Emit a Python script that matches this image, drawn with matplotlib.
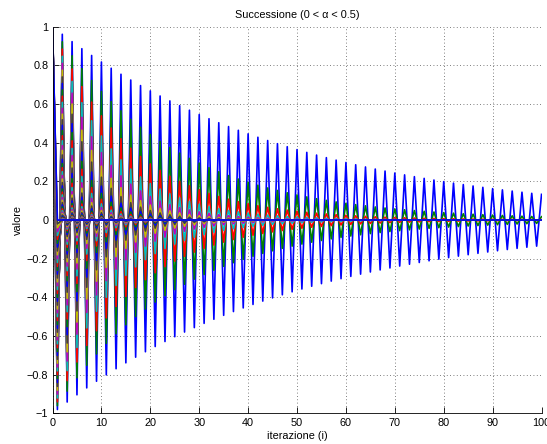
import numpy as np
import matplotlib
matplotlib.use("Agg")
import matplotlib.pyplot as plt

# alpha values of the plotted sequences (one line each)
alphas = [0.01, 0.02, 0.03, 0.04, 0.05, 0.06, 0.07, 0.08, 0.09, 0.10,
          0.11, 0.12, 0.13, 0.14, 0.15, 0.16, 0.17, 0.18, 0.19, 0.20,
          0.21, 0.22, 0.23, 0.24, 0.25, 0.26, 0.27, 0.28, 0.29, 0.30,
          0.31, 0.32, 0.33, 0.34, 0.35, 0.36, 0.37, 0.38, 0.39, 0.40,
          0.41, 0.42, 0.43, 0.44, 0.45, 0.46, 0.47, 0.48, 0.49, 0.50]
n_iter = 100
x_start = 1.0

xticks = [0, 10, 20, 30, 40, 50, 60, 70, 80, 90, 100]
yticks = [-1, -0.8, -0.6, -0.4, -0.2, 0, 0.2, 0.4, 0.6, 0.8, 1]
ytick_labels = ["\u22121", "\u22120.8", "\u22120.6", "\u22120.4", "\u22120.2", "0",
                "0.2", "0.4", "0.6", "0.8", "1"]

title = "Successione (0 < \u03b1 < 0.5)"
xlabel = "iterazione (i)"
ylabel = "valore"

colors = [(0, 0, 1), (0, 0.5, 0), (1, 0, 0), (0, 0.75, 0.75),
          (0.75, 0, 0.75), (0.75, 0.75, 0), (0.25, 0.25, 0.25)]

plt.rcParams['font.family'] = ['Liberation Sans', 'DejaVu Sans']
fs = 7.8

fig = plt.figure(figsize=(5.47, 4.44), dpi=100)
ax = fig.add_axes([0.096, 0.069, 0.894, 0.871])

i = np.arange(n_iter + 1)
for k, a in enumerate(alphas):
    # sequence x_{i+1} = (2*alpha - 1) * x_i, x_0 = 1
    x = np.empty(n_iter + 1)
    x[0] = x_start
    for j in range(1, n_iter + 1):
        x[j] = (2 * a - 1) * x[j - 1]
    ax.plot(i, x, color=colors[k % len(colors)], lw=1.2)

ax.set_xlim(0, 100)
ax.set_ylim(-1, 1)
ax.set_xticks(xticks)
ax.set_yticks(yticks)
ax.set_yticklabels(ytick_labels)
ax.tick_params(direction='in', length=4, width=0.6, colors='black', labelsize=fs, pad=3)
ax.grid(True, linestyle=(0, (1, 3)), color='#555555', linewidth=0.6)
ax.set_axisbelow(True)
for s in ['top', 'right']:
    ax.spines[s].set_visible(False)
for s in ['left', 'bottom']:
    ax.spines[s].set_linewidth(0.6)

ax.set_title(title, fontsize=fs, pad=6)
ax.set_xlabel(xlabel, fontsize=fs, labelpad=2.5)
ax.set_ylabel(ylabel, fontsize=fs, labelpad=3)

fig.savefig("out.png", dpi=100)
